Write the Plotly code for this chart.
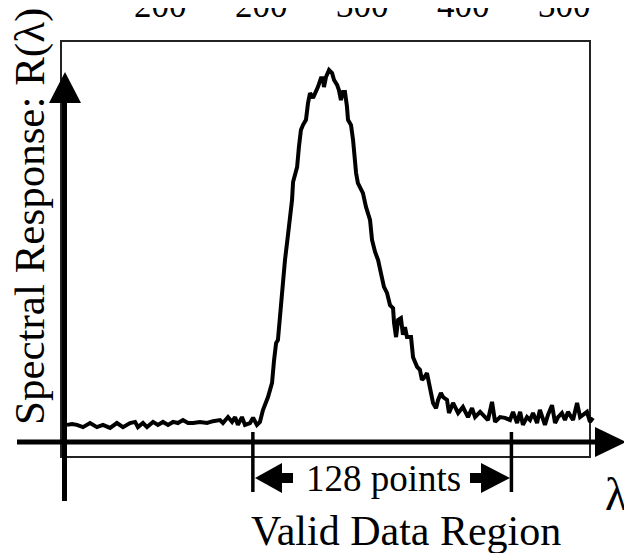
import plotly.graph_objects as go

# ---- data (sample index, spectral response in % of peak) ----
sample_index = [1.0, 3.5, 5.9, 8.9, 12.4, 15.8, 18.8, 22.3, 25.7, 28.7, 32.2, 34.7, 36.1, 38.6, 40.6,
                43.6, 46.0, 48.5, 51.0, 53.5, 55.9, 58.4, 60.9, 63.4, 66.8, 70.3, 73.3, 76.7, 78.2,
                80.7, 82.7, 84.2, 85.6, 87.6, 89.1, 91.6, 93.1, 95.0, 96.5, 98.0, 100.5, 102.5, 103.5,
                104.5, 105.4, 106.4, 107.9, 108.9, 110.4, 112.4, 112.9, 114.9, 115.8, 116.8, 117.8,
                119.3, 120.3, 121.3, 122.8, 124.3, 125.2, 126.7, 127.7, 128.2, 129.2, 130.7, 132.2,
                133.2, 134.7, 135.6, 136.6, 137.6, 138.6, 139.6, 140.1, 141.6, 142.6, 144.1, 145.0,
                147.5, 149.0, 151.0, 152.0, 153.5, 155.0, 156.4, 157.9, 159.4, 160.9, 162.4, 162.9,
                163.9, 164.9, 166.3, 167.3, 168.3, 169.3, 171.3, 172.3, 174.3, 175.7, 176.7, 177.7,
                179.2, 180.7, 182.2, 183.7, 184.7, 186.1, 187.1, 189.1, 190.1, 192.1, 194.6, 197.0,
                199.5, 201.5, 203.0, 205.5, 207.9, 209.4, 211.4, 212.9, 215.4, 217.8, 220.3, 221.8,
                223.8, 225.3, 226.7, 228.7, 230.2, 231.7, 233.7, 235.1, 237.6, 239.1, 241.1, 242.6,
                244.1, 246.0, 247.5, 249.0, 251.5, 253.5, 255.0, 256.4, 258.4, 259.9, 261.4]
response = [4.6, 4.8, 4.6, 4.0, 5.1, 4.0, 4.6, 3.8, 5.1, 4.0, 5.1, 5.4, 4.0, 5.1, 4.0,
            5.4, 4.6, 5.4, 4.6, 5.4, 5.1, 5.9, 5.1, 5.1, 5.4, 5.1, 5.6, 5.9, 5.1,
            6.7, 5.4, 6.7, 4.6, 6.7, 4.6, 5.1, 6.5, 4.6, 5.4, 8.6, 12.1, 15.9, 22.0,
            26.6, 27.4, 33.6, 45.4, 48.9, 55.7, 65.1, 69.9, 73.9, 79.3, 83.9, 85.2,
            86.6, 91.1, 93.8, 92.5, 94.1, 95.4, 97.8, 97.8, 95.4, 98.1, 100.0, 99.2,
            97.3, 96.0, 94.6, 91.9, 94.1, 94.1, 90.1, 86.6, 85.2, 81.2, 72.3, 69.6,
            66.9, 63.2, 59.7, 54.3, 51.1, 48.9, 45.4, 41.7, 40.1, 36.8, 36.0, 32.0,
            28.2, 32.8, 33.3, 28.8, 30.9, 28.2, 28.2, 22.8, 20.2, 19.4, 16.7, 17.2,
            18.5, 14.0, 10.5, 9.1, 11.3, 13.2, 12.1, 11.3, 7.8, 10.5, 7.8, 9.4,
            6.7, 9.1, 6.7, 8.1, 6.5, 5.9, 10.8, 5.4, 6.7, 6.5, 5.9, 8.1,
            5.1, 8.1, 4.6, 6.7, 5.9, 7.8, 5.1, 8.6, 4.6, 7.3, 9.9, 5.1,
            6.7, 7.8, 5.9, 8.1, 5.9, 10.5, 6.7, 7.3, 8.1, 5.4, 6.5]

valid_start = 93          # first sample of the valid data region
valid_points = 128        # width of the valid data region
top_tick_vals = [47.5, 97.5, 147.5, 197.5, 247.5]
top_tick_text = ["200", "200", "300", "400", "300"]

FONT = "Liberation Serif"
W, H = 632, 553
OFF = 8  # page body margin in the browser


def fx(p):
    return (p - OFF) / W


def fy(p):
    return 1 - (p - OFF) / H


def tri(a, b, c):
    pts = [a, b, c]
    s = "M " + " L ".join(f"{fx(x):.5f},{fy(y):.5f}" for x, y in pts) + " Z"
    return dict(type="path", xref="paper", yref="paper", path=s,
                fillcolor="black", line=dict(color="black", width=0))


def rect(x0, y0, x1, y1):
    return dict(type="rect", xref="paper", yref="paper", x0=fx(x0), x1=fx(x1),
                y0=fy(y1), y1=fy(y0), fillcolor="black", line=dict(width=0))


fig = go.Figure()
fig.add_trace(go.Scatter(x=sample_index, y=response, mode="lines",
                         line=dict(color="black", width=4), hoverinfo="skip"))

shapes = []
# frame box
shapes.append(dict(type="rect", xref="paper", yref="paper", x0=fx(61), x1=fx(590),
                   y0=fy(457), y1=fy(41), line=dict(color="#222", width=2),
                   fillcolor="rgba(0,0,0,0)", layer="below"))
# vertical axis with arrow
shapes.append(rect(62, 100, 67, 501))
shapes.append(tri((65, 72), (49, 103), (81, 103)))
# horizontal axis with arrow
shapes.append(rect(17, 439.5, 597, 444.5))
shapes.append(tri((595, 427), (626, 442), (595, 457)))
# valid region ticks (data x)
for xv in (valid_start, valid_start + valid_points):
    shapes.append(dict(type="line", xref="x", yref="paper", x0=xv, x1=xv,
                       y0=fy(432), y1=fy(492), line=dict(color="black", width=3.5)))
# 128 points arrows
shapes.append(tri((255, 478), (282, 463), (282, 493)))
shapes.append(rect(281, 473, 293, 483))
shapes.append(rect(470, 473, 482, 483))
shapes.append(tri((510, 478), (481, 463), (481, 493)))

annotations = []
for tv, tt in zip(top_tick_vals, top_tick_text):
    annotations.append(dict(x=tv, xref="x", y=fy(5.5), yref="paper", text=tt,
                            showarrow=False, xanchor="center", yanchor="middle",
                            font=dict(family=FONT, size=35, color="black")))
annotations.append(dict(x=fx(30), y=fy(217), xref="paper", yref="paper",
                        text="Spectral Response: R(λ)", textangle=-90, showarrow=False,
                        xanchor="center", yanchor="middle",
                        font=dict(family=FONT, size=43, color="black")))
annotations.append(dict(x=fx(383), y=fy(478), xref="paper", yref="paper",
                        text=f"{valid_points} points", showarrow=False,
                        xanchor="center", yanchor="middle",
                        font=dict(family=FONT, size=37, color="black")))
annotations.append(dict(x=fx(406), y=fy(531), xref="paper", yref="paper",
                        text="Valid Data Region", showarrow=False,
                        xanchor="center", yanchor="middle",
                        font=dict(family=FONT, size=42, color="black")))
annotations.append(dict(x=fx(616), y=fy(494), xref="paper", yref="paper",
                        text="λ", showarrow=False, xanchor="center", yanchor="middle",
                        font=dict(family=FONT, size=46, color="black")))

x_px0, x_scale = 65 - OFF, 2.02
y_px0, y_scale = 442 - OFF, 3.72
fig.update_layout(
    width=W, height=H, margin=dict(l=0, r=0, t=0, b=0),
    paper_bgcolor="white", plot_bgcolor="white", showlegend=False,
    xaxis=dict(visible=False, range=[(0 - x_px0) / x_scale, (W - x_px0) / x_scale], fixedrange=True),
    yaxis=dict(visible=False, range=[(y_px0 - H) / y_scale, y_px0 / y_scale], fixedrange=True),
    shapes=shapes, annotations=annotations,
)

fig.write_html("out.html")
